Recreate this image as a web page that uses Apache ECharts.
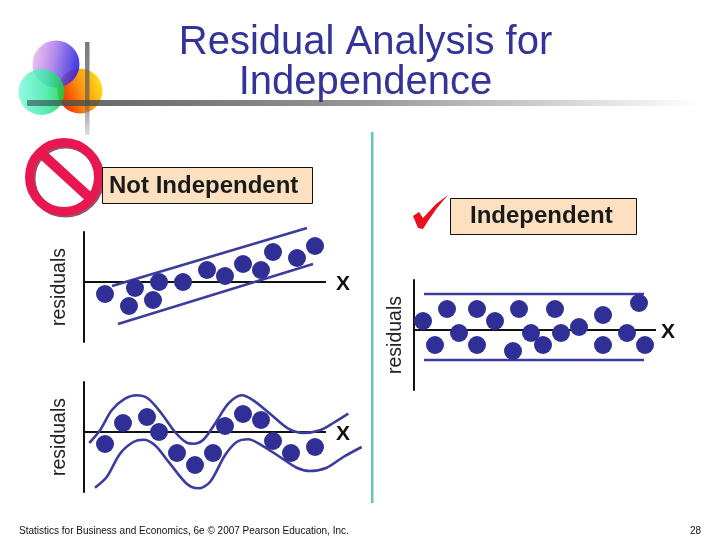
<!DOCTYPE html>
<html>
<head>
<meta charset="utf-8">
<style>
  html, body { margin: 0; padding: 0; background: #fff; }
  #chart { width: 720px; height: 540px; }
</style>
<script src="https://cdn.jsdelivr.net/npm/echarts@6/dist/echarts.min.js"></script>
</head>
<body>
<div id="chart"></div>
<script>
// Panel superior izquierdo: residuos con tendencia
const trendX = [21, 51, 45, 75, 69, 99, 123, 141, 159, 177, 189, 213, 231];
const trendY = [-12, -6, -24, 0, -18, 0, 12, 6, 18, 12, 30, 24, 36];
const trendUpper = [[28, -4], [223, 54]];
const trendLower = [[34, -42], [229, 18]];

// Panel inferior izquierdo: residuos ciclicos
const cycleX = [21, 39, 63, 75, 93, 111, 129, 141, 159, 177, 189, 207, 231];
const cycleY = [-12, 9, 15, 0, -21, -33, -21, 6, 18, 12, -9, -21, -15];
const cycleUpper = [
  [5.3, -11], [16, 1.7], [27.7, 21.7], [41, 33.3], [52.7, 36.7], [64.3, 33.3], [77.7, 18.3],
  [91, 0], [102.7, -10.7], [109.3, -11.7], [119.3, -7.7], [131, 8.3], [144.3, 28.3],
  [157.7, 36.7], [169.3, 31.7], [186, 18.3], [204.3, 3.3], [219.3, -1], [236, 1.7],
  [249.3, 9], [264.3, 18.3],
];
const cycleLower = [
  [11, -55.7], [22.7, -45], [36, -21.7], [49.3, -10], [59.3, -7.7], [71, -13.3], [86, -31.7],
  [102.7, -51.7], [114.3, -56.3], [126, -50], [141, -23.3], [152.7, -10], [164.3, -7.3],
  [177.7, -13.3], [196, -25], [212.7, -35.7], [226, -39], [242.7, -35.7], [259.3, -25],
  [277.7, -15],
];

// Panel derecho: residuos independientes
const indepX = [9, 33, 21, 45, 63, 63, 81, 105, 99, 117, 129, 141, 147, 165, 189, 189, 213, 225, 231];
const indepY = [9, 21, -15, -3, 21, -15, 9, 21, -21, -3, -15, 21, -3, 3, 15, -15, -3, 27, -15];
const indepUpper = [[10, 36], [230, 36]];
const indepLower = [[10, -30], [230, -30]];

// Linea de cero de cada panel
const zeroLine = [[0, 0], [242, 0]];

const titleText = "Residual Analysis for\nIndependence";
const footerText = "Statistics for Business and Economics, 6e © 2007 Pearson Education, Inc.";
const pageNumber = "28";

const FONT = "Liberation Sans";
const DOT = "#2f2f96";
const BAND = "#3c3c9c";

const panels = [
  { left: 84, top: 232, gap: 14, xGap: 10 },
  { left: 84, top: 382, gap: 14, xGap: 10 },
  { left: 414, top: 280, gap: 8, xGap: 5 },
];

function zip(xs, ys) {
  return xs.map((x, i) => [x, ys[i]]);
}

function dots(idx, xs, ys) {
  return {
    type: "scatter",
    xAxisIndex: idx,
    yAxisIndex: idx,
    data: zip(xs, ys),
    symbolSize: 18,
    itemStyle: { color: DOT, opacity: 1 },
    z: 3,
  };
}

function band(idx, pts, smooth) {
  return {
    type: "line",
    xAxisIndex: idx,
    yAxisIndex: idx,
    data: pts,
    smooth: smooth ? 0.3 : false,
    symbol: "none",
    clip: false,
    lineStyle: { color: BAND, width: 2.6 },
    z: 2,
  };
}

function zero(idx) {
  return {
    type: "line",
    xAxisIndex: idx,
    yAxisIndex: idx,
    data: zeroLine,
    symbol: "none",
    lineStyle: { color: "#111", width: 2 },
    endLabel: {
      show: true,
      formatter: "X",
      distance: panels[idx].xGap,
      offset: [0, 2],
      fontFamily: FONT,
      fontSize: 21,
      fontWeight: "bold",
      color: "#111",
    },
    z: 1,
  };
}

const chart = echarts.init(document.getElementById("chart"), null, { renderer: "canvas" });

const option = {
  animation: false,
  backgroundColor: "#fff",
  title: {
    text: titleText,
    left: 360.5,
    top: 18,
    textAlign: "center",
    textStyle: {
      fontFamily: FONT,
      fontSize: 40,
      fontWeight: "normal",
      color: "#333399",
      lineHeight: 40,
    },
  },
  grid: panels.map((p) => ({ left: p.left, top: p.top, width: 290, height: 110 })),
  xAxis: panels.map((p, i) => ({
    type: "value",
    gridIndex: i,
    min: 0,
    max: 290,
    axisLine: { show: false },
    axisTick: { show: false },
    axisLabel: { show: false },
    splitLine: { show: false },
  })),
  yAxis: panels.map((p, i) => ({
    type: "value",
    gridIndex: i,
    min: -60,
    max: 50,
    name: "residuals",
    nameLocation: "middle",
    nameGap: p.gap,
    nameRotate: 90,
    nameTextStyle: { fontFamily: FONT, fontSize: 19.5, color: "#222" },
    axisLine: { show: true, lineStyle: { color: "#111", width: 2 } },
    axisTick: { show: false },
    axisLabel: { show: false },
    splitLine: { show: false },
  })),
  series: [
    zero(0),
    band(0, trendUpper),
    band(0, trendLower),
    dots(0, trendX, trendY),
    zero(1),
    band(1, cycleUpper, true),
    band(1, cycleLower, true),
    dots(1, cycleX, cycleY),
    zero(2),
    band(2, indepUpper),
    band(2, indepLower),
    dots(2, indepX, indepY),
  ],
  graphic: [
    // logo de circulos
    {
      type: "circle", shape: { cx: 80, cy: 91, r: 22.5 }, z: 1,
      style: { fill: { type: "linear", x: 0, y: 0.6, x2: 1, y2: 0.2, colorStops: [
        { offset: 0, color: "#ee2a00" }, { offset: 0.5, color: "#ff9410" }, { offset: 1, color: "#ffe820" } ] } },
    },
    {
      type: "circle", shape: { cx: 56, cy: 64, r: 23.5 }, z: 1,
      style: { opacity: 0.85, fill: { type: "linear", x: 0, y: 0, x2: 1, y2: 0.2, colorStops: [
        { offset: 0, color: "#f3c4ee" }, { offset: 0.5, color: "#a878e8" }, { offset: 1, color: "#2a20e0" } ] } },
    },
    {
      type: "circle", shape: { cx: 41.5, cy: 92, r: 23 }, z: 1,
      style: { opacity: 0.85, fill: { type: "linear", x: 0, y: 0, x2: 1, y2: 0, colorStops: [
        { offset: 0, color: "#80f8e0" }, { offset: 0.6, color: "#40e8a8" }, { offset: 1, color: "#10d040" } ] } },
    },
    // barras de la plantilla
    {
      type: "rect", shape: { x: 85, y: 42, width: 4.5, height: 93 }, z: 2,
      style: { fill: { type: "linear", x: 0, y: 0, x2: 0, y2: 1, colorStops: [
        { offset: 0, color: "rgba(90,90,90,0.8)" }, { offset: 0.65, color: "rgba(90,90,90,0.65)" }, { offset: 1, color: "rgba(200,200,200,0.6)" } ] } },
    },
    {
      type: "rect", shape: { x: 27, y: 100, width: 673, height: 6 }, z: 2,
      style: { fill: { type: "linear", x: 0, y: 0, x2: 1, y2: 0, colorStops: [
        { offset: 0, color: "rgba(50,90,90,0.65)" }, { offset: 0.11, color: "rgba(70,70,70,0.8)" }, { offset: 0.5, color: "rgba(140,140,140,0.9)" }, { offset: 1, color: "rgba(255,255,255,0.9)" } ] } },
    },
    // senal de prohibido
    {
      type: "circle", shape: { cx: 65.5, cy: 178.5, r: 34.5 }, z: 1,
      style: { fill: "none", stroke: "#8a5a6a", lineWidth: 9 },
    },
    {
      type: "circle", shape: { cx: 64, cy: 177, r: 34.5 }, z: 2,
      style: { fill: "none", stroke: "#e8174f", lineWidth: 9 },
    },
    {
      type: "line", shape: { x1: 42, y1: 154, x2: 90, y2: 198 }, z: 2,
      style: { stroke: "#e8174f", lineWidth: 10 },
    },
    // cajas de texto
    {
      type: "rect", shape: { x: 102.5, y: 167.5, width: 210, height: 36 }, z: 3,
      style: { fill: "#fde0bf", stroke: "#111", lineWidth: 1 },
    },
    {
      type: "text", left: 109, top: 174, z: 4,
      style: { text: "Not Independent", fontFamily: FONT, fontSize: 24, fontWeight: "bold", fill: "#1a1a1a" },
    },
    {
      type: "rect", shape: { x: 450.5, y: 198.5, width: 186, height: 36 }, z: 3,
      style: { fill: "#fde0bf", stroke: "#111", lineWidth: 1 },
    },
    {
      type: "text", left: 470, top: 204, z: 4,
      style: { text: "Independent", fontFamily: FONT, fontSize: 24, fontWeight: "bold", fill: "#1a1a1a" },
    },
    // marca de verificacion
    {
      type: "polygon", z: 4,
      shape: { points: [[413, 216], [419, 212], [423, 218], [436, 204], [448, 195], [437, 208], [428, 221], [423, 229], [418, 228]] },
      style: { fill: "#e8101c" },
    },
    // divisor
    {
      type: "rect", shape: { x: 371, y: 132, width: 2.5, height: 371 }, z: 1,
      style: { fill: "#5fc9b8" },
    },
    // pie de pagina
    {
      type: "text", left: 19, top: 526, z: 4,
      style: { text: footerText, fontFamily: FONT, fontSize: 10, fill: "#111" },
    },
    {
      type: "text", left: 690, top: 526, z: 4,
      style: { text: pageNumber, fontFamily: FONT, fontSize: 10, fill: "#111" },
    },
  ],
};
chart.setOption(option);
</script>
</body>
</html>
